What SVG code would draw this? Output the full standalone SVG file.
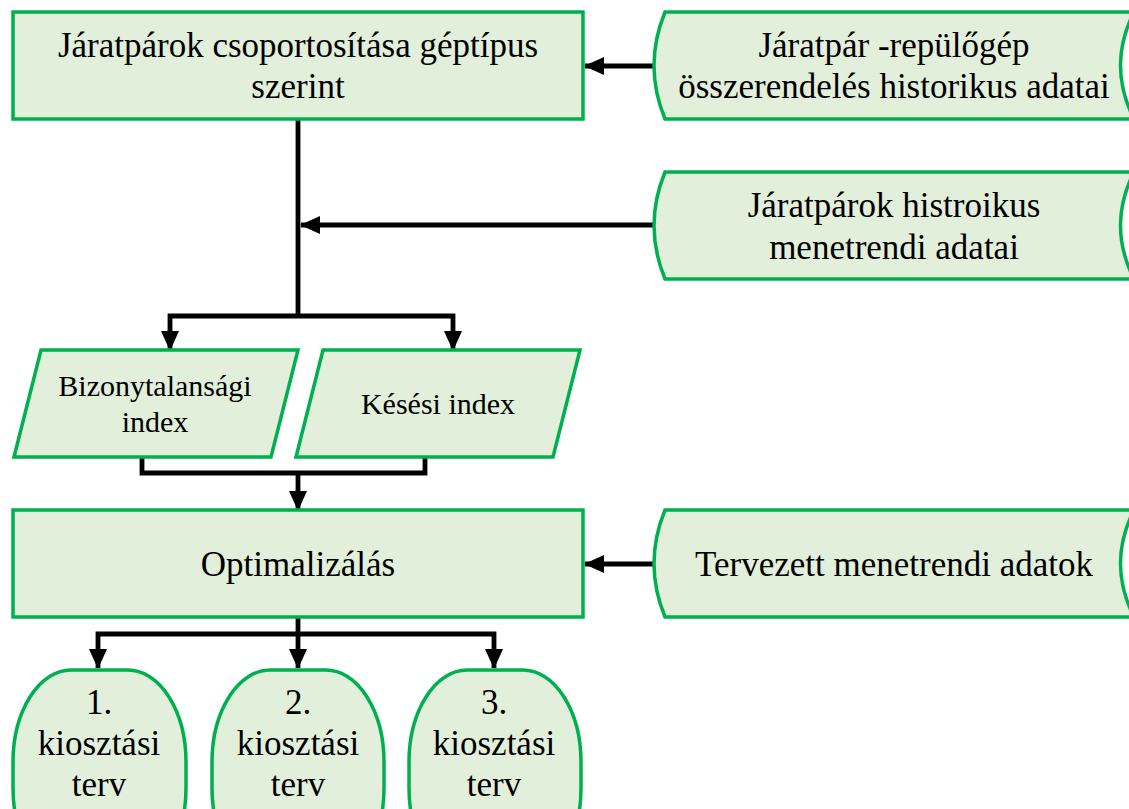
<svg xmlns="http://www.w3.org/2000/svg" width="1129" height="809" viewBox="0 0 1129 809">
<style>
.n{fill:#E2EFDA;stroke:#00B050;stroke-width:3.5}
text{font-family:"Liberation Serif",Tinos,"Times New Roman","DejaVu Serif",serif;font-size:35px;fill:#000;text-anchor:middle}
.s{font-size:30px}
.c{fill:none;stroke:#000;stroke-width:4.8;stroke-linejoin:miter}
</style>
<defs>
<marker id="ah" markerUnits="userSpaceOnUse" markerWidth="20" markerHeight="18" viewBox="0 0 20 18" refX="19" refY="9" orient="auto">
<path d="M0,0 L20,9 L0,18 Z" fill="#000"/>
</marker>
</defs>
<rect width="1129" height="809" fill="#fff"/>
<g id="connectors">
<path class="c" d="M655,66 L585,66" marker-end="url(#ah)"/>
<path class="c" d="M298,119 L298,316"/>
<path class="c" d="M655,225 L301,225" marker-end="url(#ah)"/>
<path class="c" d="M298,316 L170,316 L170,350" marker-end="url(#ah)"/>
<path class="c" d="M298,316 L453,316 L453,350" marker-end="url(#ah)"/>
<path class="c" d="M142,457 L142,473 L425,473 L425,457"/>
<path class="c" d="M298,473 L298,510" marker-end="url(#ah)"/>
<path class="c" d="M655,564 L585,564" marker-end="url(#ah)"/>
<path class="c" d="M298,617 L298,668" marker-end="url(#ah)"/>
<path class="c" d="M298,634 L98,634 L98,668" marker-end="url(#ah)"/>
<path class="c" d="M298,634 L494,634 L494,668" marker-end="url(#ah)"/>
</g>
<g id="n1">
<rect class="n" x="13" y="12" width="570" height="107"/>
<text x="298" y="57">Járatpárok csoportosítása géptípus</text>
<text x="298" y="98">szerint</text>
</g>
<g id="d1">
<path class="n" d="M665,12 L1134,12 Q1107,65.5 1134,119 L665,119 Q643,65.5 665,12 Z"/>
<text x="894" y="57">Járatpár -repülőgép</text>
<text x="894" y="98">összerendelés historikus adatai</text>
</g>
<g id="d2">
<path class="n" d="M665,172 L1134,172 Q1107,225.5 1134,279 L665,279 Q643,225.5 665,172 Z"/>
<text x="894" y="217">Járatpárok histroikus</text>
<text x="894" y="259">menetrendi adatai</text>
</g>
<g id="p1">
<path class="n" d="M41,350 L298,350 L271,457 L14,457 Z"/>
<text class="s" x="155" y="396">Bizonytalansági</text>
<text class="s" x="155" y="432">index</text>
</g>
<g id="p2">
<path class="n" d="M323,350 L580,350 L553,457 L296,457 Z"/>
<text class="s" x="438" y="414">Késési index</text>
</g>
<g id="n2">
<rect class="n" x="13" y="510" width="570" height="107"/>
<text x="298" y="576">Optimalizálás</text>
</g>
<g id="d3">
<path class="n" d="M665,510 L1134,510 Q1107,563.5 1134,617 L665,617 Q643,563.5 665,510 Z"/>
<text x="894" y="576">Tervezett menetrendi adatok</text>
</g>
<g id="e1">
<rect class="n" x="13" y="670" width="173" height="210" rx="58" ry="92"/>
<text x="99" y="714">1.</text>
<text x="99" y="755">kiosztási</text>
<text x="99" y="796">terv</text>
</g>
<g id="e2">
<rect class="n" x="212" y="670" width="172" height="210" rx="58" ry="92"/>
<text x="298" y="714">2.</text>
<text x="298" y="755">kiosztási</text>
<text x="298" y="796">terv</text>
</g>
<g id="e3">
<rect class="n" x="409" y="670" width="172" height="210" rx="58" ry="92"/>
<text x="494" y="714">3.</text>
<text x="494" y="755">kiosztási</text>
<text x="494" y="796">terv</text>
</g>
</svg>
